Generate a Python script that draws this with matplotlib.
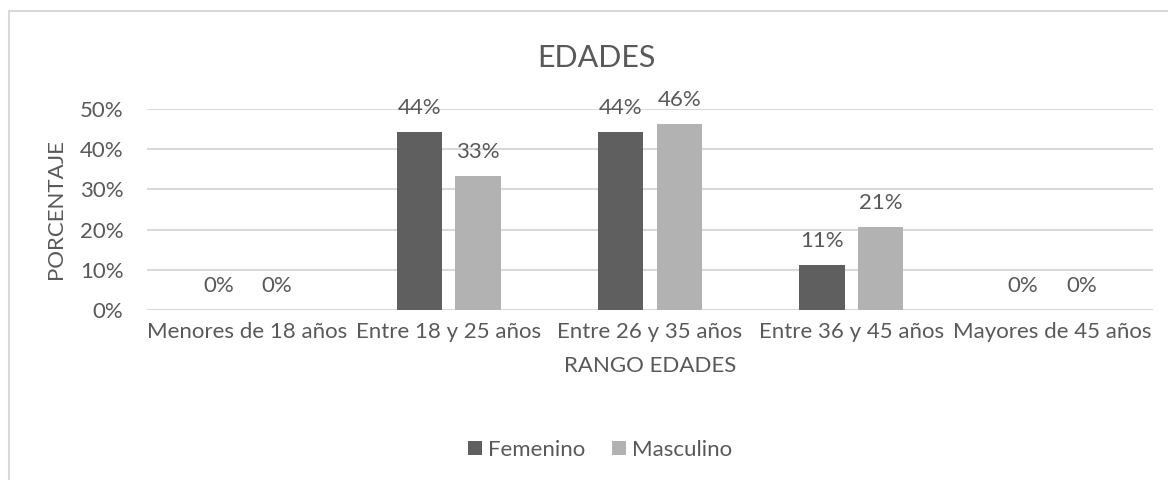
import matplotlib
matplotlib.use("Agg")
import matplotlib.pyplot as plt
from matplotlib.patches import Rectangle
import numpy as np

categorias = ["Menores de 18 años", "Entre 18 y 25 años", "Entre 26 y 35 años",
              "Entre 36 y 45 años", "Mayores de 45 años"]
femenino = [0.0, 0.444, 0.444, 0.111, 0.0]
masculino = [0.0, 0.333, 0.462, 0.207, 0.0]
yticks = [0.0, 0.1, 0.2, 0.3, 0.4, 0.5]

txt = "#595959"
plt.rcParams["font.family"] = ["Lato", "DejaVu Sans"]

fig = plt.figure(figsize=(11.68, 4.8), dpi=100)
W, H = 1168, 480
ax = fig.add_axes([147 / W, 1 - 310 / H, (1153 - 147) / W, (310 - 109) / H])

x = np.arange(len(categorias))
w = 0.224
off = 0.145
b1 = ax.bar(x - off, femenino, w, color="#5f5f5f", label="Femenino", zorder=3)
b2 = ax.bar(x + off, masculino, w, color="#b2b2b2", label="Masculino", zorder=3)

for bars, vals in ((b1, femenino), (b2, masculino)):
    for r, v in zip(bars, vals):
        ax.annotate(f"{v:.0%}", (r.get_x() + r.get_width() / 2, v),
                    xytext=(0, 10), textcoords="offset points",
                    ha="center", va="bottom", fontsize=16, color=txt)

ax.set_xlim(-0.5, len(categorias) - 0.5)
ax.set_ylim(0, 0.5)
ax.set_yticks(yticks)
ax.set_yticklabels([f"{t:.0%}" for t in yticks])
ax.set_xticks(x)
ax.set_xticklabels(categorias)
ax.tick_params(axis="both", length=0, labelsize=16, colors=txt)
ax.tick_params(axis="y", pad=17)
ax.tick_params(axis="x", pad=9)
ax.grid(axis="y", color="#d9d9d9", linewidth=1.5, zorder=0)
for s in ax.spines.values():
    s.set_visible(False)

ax.set_xlabel("RANGO EDADES", fontsize=16, color=txt, labelpad=10)
ax.set_ylabel("PORCENTAJE", fontsize=16, color=txt, labelpad=10)
fig.text(596 / W, 1 - 67 / H, "EDADES", fontsize=22,
         color=txt, ha="center", va="baseline")

fig.legend(loc="center", bbox_to_anchor=(600 / W, 1 - 450 / H),
           ncol=2, frameon=False, fontsize=16, labelcolor=txt,
           handlelength=0.62, handleheight=0.62, handletextpad=0.27,
           columnspacing=1.2)

fig.add_artist(Rectangle((8.5 / W, -0.05), 1.2, 1 - 10.5 / H + 0.05,
                         transform=fig.transFigure, fill=False,
                         edgecolor="#d9d9d9", linewidth=1.5))

fig.savefig("out.png", dpi=100, facecolor="white")
